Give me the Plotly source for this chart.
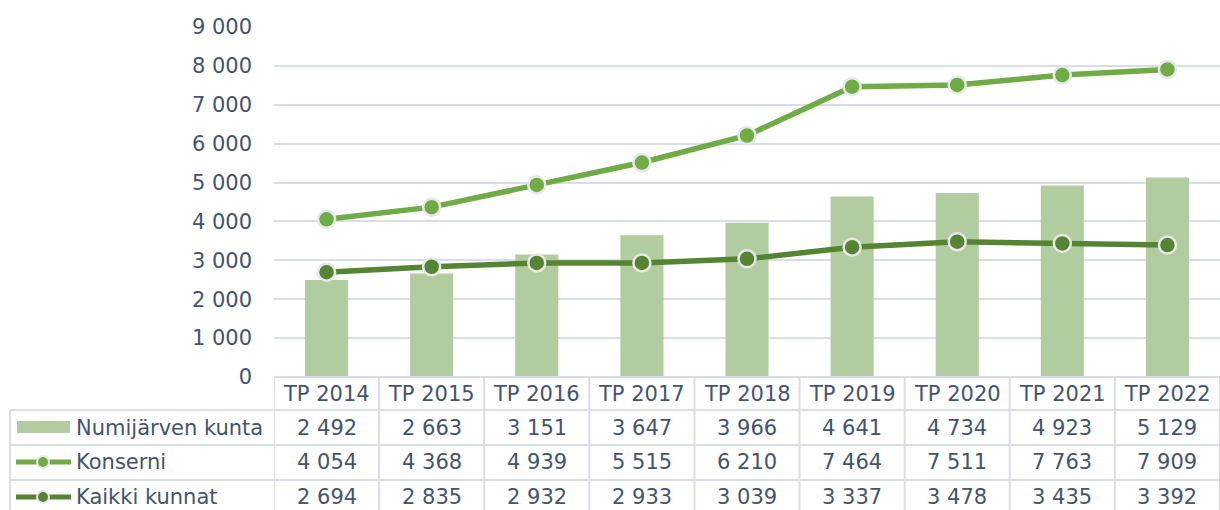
import plotly.graph_objects as go

categories = ["TP 2014", "TP 2015", "TP 2016", "TP 2017", "TP 2018", "TP 2019", "TP 2020", "TP 2021", "TP 2022"]
numijarvi = [2492, 2663, 3151, 3647, 3966, 4641, 4734, 4923, 5129]
konserni = [4054, 4368, 4939, 5515, 6210, 7464, 7511, 7763, 7909]
kaikki = [2694, 2835, 2932, 2933, 3039, 3337, 3478, 3435, 3392]
series_names = ["Numijärven kunta", "Konserni", "Kaikki kunnat"]
y_ticks = [0, 1000, 2000, 3000, 4000, 5000, 6000, 7000, 8000, 9000]

W, H = 1220, 510
L, R, T, B = 274, 0, 27, 133
PW, PH = W - L - R, H - T - B

def px(x):
    return (x - L) / PW

def py(y):
    return (H - B - y) / PH

TEXT = "#44546a"
GRID = "#d9dde6"
FONT = "DejaVu Sans"
FS = 21
BAR_C = "#b1cda0"
KON_C = "#6fac45"
KAI_C = "#558435"

def fmt(v):
    return f"{v:,}".replace(",", " ")

fig = go.Figure()
fig.add_trace(go.Bar(x=categories, y=numijarvi, name=series_names[0], width=0.41,
                     marker=dict(color=BAR_C, line=dict(width=0))))
fig.add_trace(go.Scatter(x=categories, y=konserni, name=series_names[1], mode="lines+markers",
                         line=dict(color=KON_C, width=5.5),
                         marker=dict(size=17, color=KON_C, line=dict(color="#e8e8e8", width=2.5))))
fig.add_trace(go.Scatter(x=categories, y=kaikki, name=series_names[2], mode="lines+markers",
                         line=dict(color=KAI_C, width=5.5),
                         marker=dict(size=17, color=KAI_C, line=dict(color="#e8e8e8", width=2.5))))

shapes = []
row_lines = [410, 445, 480]
for yy in row_lines:
    shapes.append(dict(type="line", xref="paper", yref="paper", x0=px(10), x1=px(1219), y0=py(yy), y1=py(yy),
                       line=dict(color=GRID, width=2)))
shapes.append(dict(type="line", xref="paper", yref="paper", x0=px(10), x1=px(10), y0=py(410), y1=py(510),
                   line=dict(color=GRID, width=2)))
for i in range(len(categories) + 1):
    shapes.append(dict(type="line", xref="x", yref="paper", x0=i - 0.5, x1=i - 0.5, y0=py(377), y1=py(510),
                       line=dict(color=GRID, width=2)))
shapes.append(dict(type="line", xref="paper", yref="paper", x0=0, x1=1, y0=0, y1=0,
                   line=dict(color=GRID, width=2)))

# legend keys
shapes.append(dict(type="rect", xref="paper", yref="paper", x0=px(17), x1=px(70), y0=py(433), y1=py(421),
                   fillcolor=BAR_C, line=dict(width=0)))
for yy, c in [(462, KON_C), (497, KAI_C)]:
    shapes.append(dict(type="line", xref="paper", yref="paper", x0=px(16), x1=px(71), y0=py(yy), y1=py(yy),
                       line=dict(color=c, width=5)))
    shapes.append(dict(type="circle", xref="paper", yref="paper", x0=px(37), x1=px(49), y0=py(yy + 6), y1=py(yy - 6),
                       fillcolor=c, line=dict(color="#e8e8e8", width=2)))

annotations = []
row_y = [394, 428, 462, 497]
for c in categories:
    annotations.append(dict(x=c, y=py(row_y[0]), xref="x", yref="paper", text=c, showarrow=False,
                            xanchor="center", yanchor="middle", font=dict(family=FONT, size=FS, color=TEXT)))
for r, vals in enumerate([numijarvi, konserni, kaikki]):
    annotations.append(dict(x=px(74), y=py(row_y[r + 1]), xref="paper", yref="paper", text=series_names[r],
                            showarrow=False, xanchor="left", yanchor="middle",
                            font=dict(family=FONT, size=FS, color=TEXT)))
    for c, v in zip(categories, vals):
        annotations.append(dict(x=c, y=py(row_y[r + 1]), xref="x", yref="paper", text=fmt(v), showarrow=False,
                                xanchor="center", yanchor="middle", font=dict(family=FONT, size=FS, color=TEXT)))

fig.update_layout(
    width=W, height=H,
    margin=dict(l=L, r=R, t=T, b=B, pad=0),
    paper_bgcolor="white", plot_bgcolor="white",
    showlegend=False,
    separators=", ",
    shapes=shapes,
    annotations=annotations,
    font=dict(family=FONT, size=FS, color=TEXT),
    xaxis=dict(range=[-0.5, len(categories) - 0.5], showticklabels=False, showgrid=False, zeroline=False,
               showline=False, fixedrange=True),
    yaxis=dict(range=[0, 9000], tickvals=y_ticks, ticktext=[fmt(v) for v in y_ticks], showgrid=True,
               gridcolor=GRID, gridwidth=2, zeroline=False, showline=False, ticklabelstandoff=21,
               tickfont=dict(family=FONT, size=FS, color=TEXT)),
)

fig.write_html("out.html", config={"displayModeBar": False},
               post_script="document.body.style.margin='0';document.body.style.padding='0';")
